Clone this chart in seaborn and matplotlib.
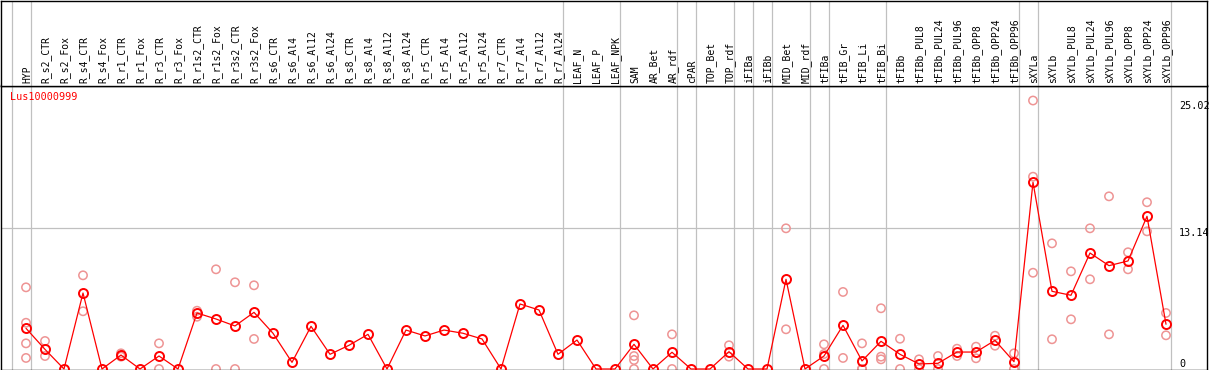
import numpy as np
import pandas as pd
import matplotlib
matplotlib.use('Agg')
import matplotlib.pyplot as plt
import seaborn as sns

# --- Data ---
GENE = 'Lus10000999'

categories = [
    'HYP', 'R_s2_CTR', 'R_s2_Fox', 'R_s4_CTR', 'R_s4_Fox', 'R_r1_CTR', 'R_r1_Fox',
    'R_r3_CTR', 'R_r3_Fox', 'R_r1s2_CTR', 'R_r1s2_Fox', 'R_r3s2_CTR', 'R_r3s2_Fox',
    'R_s6_CTR', 'R_s6_Al4', 'R_s6_Al12', 'R_s6_Al24', 'R_s8_CTR', 'R_s8_Al4',
    'R_s8_Al12', 'R_s8_Al24', 'R_r5_CTR', 'R_r5_Al4', 'R_r5_Al12', 'R_r5_Al24',
    'R_r7_CTR', 'R_r7_Al4', 'R_r7_Al12', 'R_r7_Al24', 'LEAF_N', 'LEAF_P', 'LEAF_NPK',
    'SAM', 'AR_Bet', 'AR_rdf', 'cPAR', 'TOP_Bet', 'TOP_rdf', 'iFIBa', 'iFIBb',
    'MID_Bet', 'MID_rdf', 'tFIBa', 'tFIB_Gr', 'tFIB_Li', 'tFIB_Bi', 'tFIBb',
    'tFIBb_PUL8', 'tFIBb_PUL24', 'tFIBb_PUL96', 'tFIBb_OPP8', 'tFIBb_OPP24',
    'tFIBb_OPP96', 'sXYLa', 'sXYLb', 'sXYLb_PUL8', 'sXYLb_PUL24', 'sXYLb_PUL96',
    'sXYLb_OPP8', 'sXYLb_OPP24', 'sXYLb_OPP96',
]

mean_values = [
    3.79, 1.83, 0.0, 7.08, 0.0, 1.30, 0.0, 1.21, 0.0, 5.22, 4.66, 4.01, 5.28,
    3.33, 0.62, 3.98, 1.37, 2.21, 3.23, 0.0, 3.63, 3.08, 3.63, 3.33, 2.80,
    0.0, 6.06, 5.50, 1.37, 2.70, 0.0, 0.0,
    2.30, 0.0, 1.56, 0.0, 0.0, 1.61, 0.0, 0.0, 8.36, 0.0,
    1.21, 4.07, 0.75, 2.58, 1.37, 0.47, 0.53, 1.58, 1.58, 2.67, 0.68,
    17.40, 7.24, 6.87, 10.81, 9.63, 10.07, 14.23, 4.17,
]

replicates = [
    [7.61, 4.31, 2.39, 1.03], [2.61, 1.21], [], [8.73, 5.38], [], [1.46, 1.15], [],
    [2.39, 0.0], [], [5.43, 4.87], [9.29, 0.0], [8.08, 0.0], [7.80, 2.80],
    [], [], [], [], [], [], [], [], [], [], [], [],
    [], [], [], [], [], [], [],
    [5.00, 1.21, 0.84, 0.0], [], [3.23, 0.0], [], [], [2.21, 1.15], [], [],
    [13.11, 3.70], [],
    [2.30, 1.40, 0.0], [7.18, 1.03], [2.39, 0.0, 0.0], [5.66, 1.15, 0.90],
    [2.82, 0.0], [0.90, 0.0], [1.21, 0.0], [1.89, 1.21], [2.08, 1.00],
    [3.10, 2.17], [1.46, 0.0],
    [25.02, 17.92, 8.97], [11.71, 2.77], [9.10, 4.63], [13.11, 8.36],
    [16.09, 3.23], [10.88, 9.29], [15.54, 12.83], [5.22, 3.14],
]

# group separators sit just right of these category indices
separators = [-1, 0, 28, 31, 34, 35, 37, 38, 39, 41, 42, 45, 52, 53, 60]
ytick_values = [0, 13.14, 25.02]
ytick_labels = ['0', '13.14', '25.02']

# --- Tables for seaborn ---
df_mean = pd.DataFrame({'pos': np.arange(len(categories)), 'value': mean_values})
rows = [(i, v) for i, reps in enumerate(replicates) for v in reps]
df_reps = pd.DataFrame(rows, columns=['pos', 'value'])

sns.set_style('white')
plt.rcParams['font.family'] = ['DejaVu Sans Mono', 'DejaVu Sans']

W, H = 1209, 370
fig = plt.figure(figsize=(W / 100, H / 100), dpi=100)

header_px = 85.5
ax = fig.add_axes([1 / W, 0, 1206 / W, (H - header_px) / H])
ax_h = fig.add_axes([1 / W, (H - header_px) / H, 1206 / W, (header_px - 0.5) / H])

xlim = ((1 - 26) / 19, (1207 - 26) / 19)
px_per_unit = 141 / 13.14
ylim = ((369 - 370) / px_per_unit, (369 - header_px) / px_per_unit)

grid_col = '#c0c0c0'
for a in (ax, ax_h):
    for s in separators:
        a.axvline(s + 0.25, color=grid_col, lw=0.9, zorder=0)
    a.set_xlim(*xlim)
    a.set_xticks([])
    a.set_yticks([])
    for sp in a.spines.values():
        sp.set_color('black')
        sp.set_linewidth(1.0)

ax.hlines(13.14, xlim[0], separators[-1] + 0.25, color=grid_col, lw=0.9, zorder=0)

# replicates
sns.scatterplot(data=df_reps, x='pos', y='value', ax=ax, marker='o', s=36,
                facecolor='none', edgecolor='#ee9494', linewidth=1.1, zorder=2)
# mean line
sns.lineplot(data=df_mean, x='pos', y='value', ax=ax, color='red', lw=0.9,
             marker='o', markersize=6.5, markerfacecolor='none',
             markeredgecolor='red', markeredgewidth=1.4, zorder=3)

ax.set_xlim(*xlim)
ax.set_ylim(*ylim)
ax.set_xlabel('')
ax.set_ylabel('')

# value labels on the right
for v, lab in zip(ytick_values, ytick_labels):
    ax.text((1179 - 1) / 1206, v, lab, transform=ax.get_yaxis_transform(),
            ha='left', va='bottom' if v == 0 else 'top', fontsize=7.3, color='black')

ax.text(9 / 1206, 1 - 6 / (H - header_px), GENE, transform=ax.transAxes,
        ha='left', va='top', fontsize=7.3, color='red')

# category labels in the header
ax_h.set_ylim(0, 1)
for i, name in enumerate(categories):
    ax_h.text(i + 0.05, 0.03, name, rotation=90, ha='center', va='bottom',
              fontsize=7, color='black')

fig.savefig('out.png', dpi=100)
